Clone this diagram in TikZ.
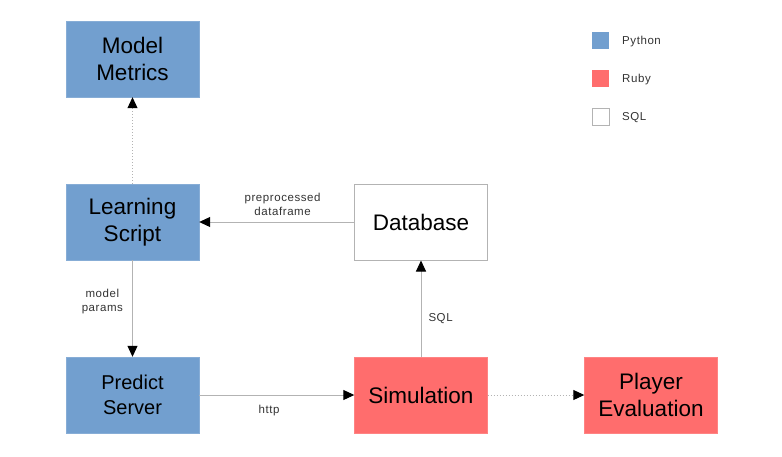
\documentclass[tikz,border=0pt]{standalone}
\usepackage{fontspec}
\setmainfont{Liberation Sans}
\newfontfamily\labfont[LetterSpace=5]{Liberation Sans}
\usetikzlibrary{arrows.meta}
\definecolor{pyblue}{HTML}{729FCF}
\definecolor{rbred}{HTML}{FF6D6D}
\definecolor{edgegray}{HTML}{B3B3B3}
\definecolor{labtext}{HTML}{333333}
\begin{document}
\begin{tikzpicture}[x=1pt,y=-1pt,
  box/.style={minimum width=133pt,minimum height=76pt,inner sep=0pt,align=center,
    font=\fontsize{22.5}{27}\selectfont,text=black},
  py/.style={box,fill=pyblue,draw=pyblue!85!white},
  rb/.style={box,fill=rbred,draw=rbred!85!white},
  sq/.style={box,fill=white,draw=edgegray,line width=1pt},
  conn/.style={draw=edgegray,line width=1pt,-{Triangle[length=11pt,width=10pt,fill=black,color=black]}},
  dotconn/.style={conn,dotted},
  lab/.style={font=\labfont\fontsize{11.5}{14}\selectfont,text=labtext,align=center,inner sep=0pt},
  legsq/.style={minimum size=17pt,inner sep=0pt},
  legtxt/.style={font=\labfont\fontsize{11.5}{14}\selectfont,text=labtext,anchor=west,inner sep=0pt}]
\useasboundingbox (0,0) rectangle (782,456);
\node[py] (mm) at (132.5,59) {Model\\Metrics};
\node[py] (ls) at (132.5,222) {Learning\\Script};
\node[py,font=\fontsize{20}{25}\selectfont] (ps) at (132.5,395) {Predict\\Server};
\node[sq] (db) at (421,222) {Database};
\node[rb] (sim) at (421,395) {Simulation};
\node[rb] (pe) at (651,395) {Player\\Evaluation};
\draw[dotconn] (ls) -- (mm);
\draw[conn] (db) -- (ls) node[lab,pos=0.5,above=6pt,xshift=6pt] {preprocessed\\dataframe};
\draw[conn] (ls) -- (ps) node[lab,pos=0.45,left=9pt,yshift=2pt] {model\\params};
\draw[conn] (ps) -- (sim) node[lab,pos=0.45,below=10pt] {http};
\draw[conn] (sim) -- (db) node[lab,pos=0.4,right=7pt] {SQL};
\draw[dotconn] (sim) -- (pe);
\node[legsq,fill=pyblue] (lpy) at (600.5,40) {};
\node[legsq,fill=rbred] (lrb) at (600.5,78.5) {};
\node[legsq,draw=edgegray,line width=1pt,fill=white] (lsq) at (600.5,116.5) {};
\node[legtxt] (tpy) at (622,42) {Python};
\node[legtxt] (trb) at (622,80) {Ruby};
\node[legtxt] (tsq) at (622,118) {SQL};
\end{tikzpicture}
\end{document}
